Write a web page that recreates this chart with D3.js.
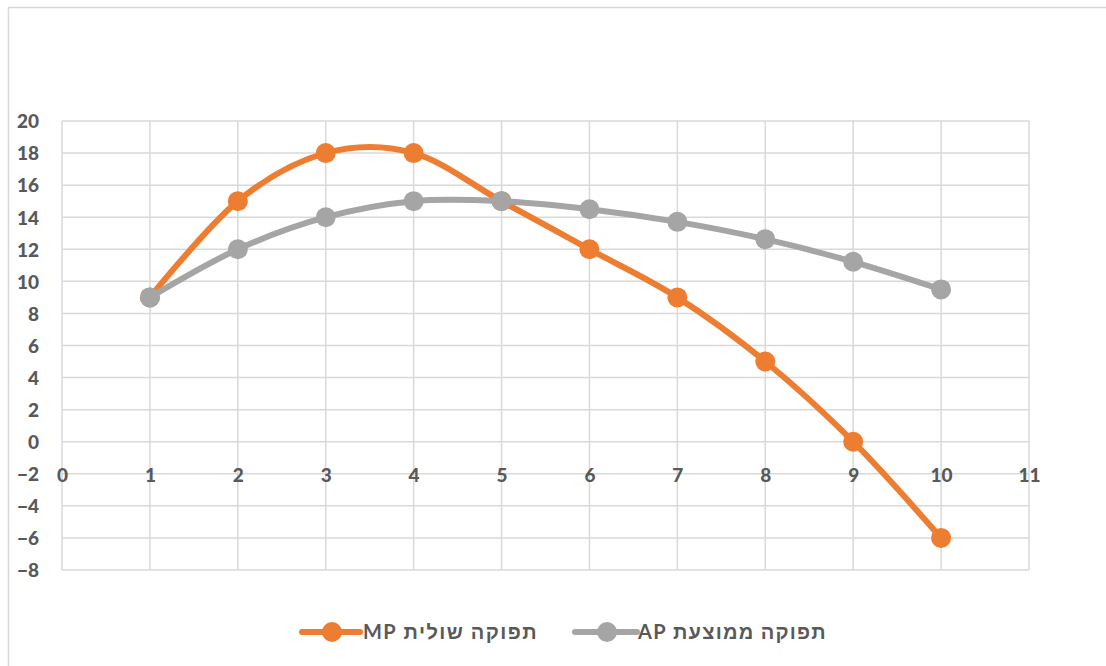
<!DOCTYPE html>
<html>
<head>
<meta charset="utf-8">
<script src="https://cdn.jsdelivr.net/npm/d3@7"></script>
<style>
  html, body { margin: 0; padding: 0; background: #fff; }
  svg { display: block; }
</style>
</head>
<body>
<svg id="chart" width="1106" height="666"></svg>
<script>
const xValues = [1, 2, 3, 4, 5, 6, 7, 8, 9, 10];
const mpValues = [9, 15, 18, 18, 15, 12, 9, 5, 0, -6];
const apValues = [9, 12, 14, 15, 15, 14.5, 13.71, 12.63, 11.22, 9.5];
const xTicks = [0, 1, 2, 3, 4, 5, 6, 7, 8, 9, 10, 11];
const yTicks = [-8, -6, -4, -2, 0, 2, 4, 6, 8, 10, 12, 14, 16, 18, 20];
const seriesNames = ["תפוקה  שולית MP", "תפוקה  ממוצעת AP"];
const seriesColors = ["#ED7D31", "#A5A5A5"];

(function () {
const svg = d3.select("#chart");
const W = 1106, H = 666;
const pLeft = 62, pRight = 1029, pTop = 121, pBottom = 570;

svg.append("rect").attr("x", 0).attr("y", 0).attr("width", W).attr("height", H).attr("fill", "#fff");
svg.append("path")
  .attr("d", `M8.5,${H + 2} V7.5 H${W + 2}`)
  .attr("fill", "none").attr("stroke", "#D9D9D9").attr("stroke-width", 1.5);

const x = d3.scaleLinear().domain([0, 11]).range([pLeft, pRight]);
const y = d3.scaleLinear().domain([-8, 20]).range([pBottom, pTop]);

const font = "Lato, 'Liberation Sans', 'DejaVu Sans', sans-serif";

const grid = svg.append("g");
grid.selectAll("line.v").data(xTicks).join("line").attr("class", "v")
  .attr("x1", d => x(d)).attr("x2", d => x(d))
  .attr("y1", pTop).attr("y2", pBottom)
  .attr("stroke", "#D9D9D9").attr("stroke-width", 1.5);
grid.selectAll("line.h").data(yTicks).join("line").attr("class", "h")
  .attr("x1", pLeft).attr("x2", pRight)
  .attr("y1", d => y(d)).attr("y2", d => y(d))
  .attr("stroke", "#D9D9D9").attr("stroke-width", 1.5);

const yAxis = d3.axisLeft(y).tickValues(yTicks).tickSize(0).tickPadding(0).tickFormat(d3.format("d"));
const gy = svg.append("g").attr("transform", "translate(39,0)").call(yAxis);
gy.select(".domain").remove();
gy.selectAll("text").attr("font-family", font).attr("font-weight", 900)
  .attr("font-size", 19).attr("fill", "#595959").attr("dy", "0.36em");

const xAxis = d3.axisBottom(x).tickValues(xTicks).tickSize(0).tickPadding(0).tickFormat(d3.format("d"));
const gx = svg.append("g").attr("transform", `translate(0,${y(-2) + 1})`).call(xAxis);
gx.select(".domain").remove();
gx.selectAll("text").attr("font-family", font).attr("font-weight", 900)
  .attr("font-size", 19).attr("fill", "#595959").attr("dy", "0.36em");

const line = d3.line().x(d => x(d[0])).y(d => y(d[1])).curve(d3.curveCardinal.tension(0));

const series = [mpValues, apValues];
series.forEach((vals, i) => {
  const pts = xValues.map((xv, j) => [xv, vals[j]]);
  const g = svg.append("g");
  g.append("path").attr("d", line(pts)).attr("fill", "none")
    .attr("stroke", seriesColors[i]).attr("stroke-width", 6).attr("stroke-linecap", "round");
  g.selectAll("circle").data(pts).join("circle")
    .attr("cx", d => x(d[0])).attr("cy", d => y(d[1])).attr("r", 10)
    .attr("fill", seriesColors[i]);
});

const legendY = 632;
const legendItems = [
  { x0: 302, x1: 360, tx: 363, tw: 175 },
  { x0: 575, x1: 637, tx: 638, tw: 189 }
];
legendItems.forEach((L, i) => {
  const g = svg.append("g");
  g.append("line").attr("x1", L.x0).attr("x2", L.x1).attr("y1", legendY).attr("y2", legendY)
    .attr("stroke", seriesColors[i]).attr("stroke-width", 6).attr("stroke-linecap", "round");
  g.append("circle").attr("cx", (L.x0 + L.x1) / 2 + 1).attr("cy", legendY).attr("r", 10)
    .attr("fill", seriesColors[i]);
  const t = g.append("text").attr("x", L.tx + L.tw / 2).attr("y", legendY).attr("dy", "0.36em")
    .attr("text-anchor", "middle").attr("direction", "rtl").style("unicode-bidi", "embed")
    .attr("font-family", font).attr("font-weight", "bold").attr("font-size", 20)
    .attr("fill", "#595959").text(seriesNames[i]);
  const w = t.node().getComputedTextLength();
  const n = seriesNames[i].length;
  const extra = (L.tw - w) / Math.max(1, n - 1);
  if (extra > 0) t.attr("letter-spacing", Math.min(extra, 2.5));
});
})();
</script>
</body>
</html>
